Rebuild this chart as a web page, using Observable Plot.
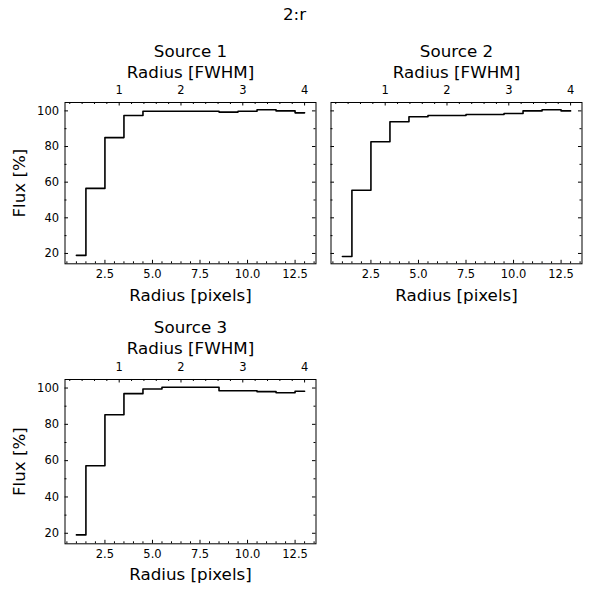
<!DOCTYPE html>
<html><head><meta charset="utf-8">
<script src="https://cdn.jsdelivr.net/npm/d3@7"></script>
<script src="https://cdn.jsdelivr.net/npm/@observablehq/plot@0.6"></script>
<style>
html,body{margin:0;padding:0;background:#fff;}
#root{position:relative;width:589px;height:592px;font-family:"DejaVu Sans",sans-serif;color:#000;}
#suptitle{position:absolute;left:0;top:6px;width:589px;text-align:center;font-size:16.7px;line-height:16.7px;}
.panel{position:absolute;}
</style></head><body>
<div id="root"><div id="suptitle">2:r</div></div>
<script>
// ---- data ----
const radiusPx = [1, 2, 3, 4, 5, 6, 7, 8, 9, 10, 11, 12, 13];
const source1 = [18.9, 56.5, 85.0, 97.4, 99.8, 99.8, 99.8, 99.8, 99.3, 99.8, 100.6, 100.0, 98.9];
const source2 = [18.3, 55.5, 82.7, 93.9, 96.7, 97.4, 97.4, 98.0, 98.0, 98.5, 100.0, 100.6, 100.0];
const source3 = [19.1, 57.2, 85.3, 96.9, 99.5, 100.4, 100.4, 100.4, 98.5, 98.5, 98.0, 97.4, 98.2];
const titles = ["Source 1", "Source 2", "Source 3"];
const xTicks = [2.5, 5, 7.5, 10, 12.5];
const fwhmTicks = [1, 2, 3, 4];
const fwhmPx = 3.25;
const yTicks = [20, 40, 60, 80, 100];
const xLabel = "Radius [pixels]";
const topLabel = "Radius [FWHM]";
const yLabel = "Flux [%]";

const xDomain = [0.4, 13.6];
const yDomain = [14.2, 104.7];
const xMinor = d3.range(1, 28).map(i => i * 0.5).filter(v => !xTicks.includes(v));
const fwhmMinor = d3.range(1, 21).map(i => +(i * 0.2).toFixed(1)).filter(v => !Number.isInteger(v));
const yMinor = [30, 50, 70, 90];
const labelSize = 16.7;

function panel(values, title, fx0, fx1, fy0, fy1, showY, off) {
  const mL = 64.5, mR = 10, mT = 75, mB = 45;
  const svgLeft = fx0 - mL, svgTop = fy0 - mT;
  const width = fx1 - svgLeft + mR, height = fy1 - svgTop + mB;
  const fw = fx1 - fx0, fh = fy1 - fy0;
  const data = radiusPx.map((r, i) => ({r, f: values[i]}));
  const maj = 3.5, mn = 2;
  const marks = [
    Plot.line(data, {x: "r", y: "f", curve: "step", stroke: "black", strokeWidth: 1.6}),
    // bottom ticks (inward)
    Plot.tickX(xTicks, {x: d => d, insetTop: fh - maj, stroke: "black"}),
    Plot.tickX(xMinor, {x: d => d, insetTop: fh - mn, stroke: "black"}),
    // top FWHM ticks (inward)
    Plot.tickX(fwhmTicks, {x: d => d * fwhmPx, insetBottom: fh - maj, stroke: "black"}),
    Plot.tickX(fwhmMinor, {x: d => d * fwhmPx, insetBottom: fh - mn, stroke: "black"}),
    // left / right ticks (inward)
    Plot.tickY(yTicks, {y: d => d, insetRight: fw - maj, stroke: "black"}),
    Plot.tickY(yMinor, {y: d => d, insetRight: fw - mn, stroke: "black"}),
    Plot.tickY(yTicks, {y: d => d, insetLeft: fw - maj, stroke: "black"}),
    Plot.tickY(yMinor, {y: d => d, insetLeft: fw - mn, stroke: "black"}),
    Plot.frame({stroke: "black", strokeWidth: 1}),
    Plot.axisX(xTicks, {anchor: "bottom", tickSize: 0, tickPadding: 6, tickFormat: d => d.toFixed(1), label: null}),
    Plot.axisX(fwhmTicks.map(f => f * fwhmPx), {anchor: "top", tickSize: 0, tickPadding: 8.7, tickFormat: d => String(Math.round(d / fwhmPx)), label: null}),
    Plot.text([title], {text: d => d, frameAnchor: "top", lineAnchor: "middle", textAnchor: "middle", dy: off.title, fontSize: labelSize}),
    Plot.text([topLabel], {text: d => d, frameAnchor: "top", lineAnchor: "middle", textAnchor: "middle", dy: off.top, fontSize: labelSize}),
    Plot.text([xLabel], {text: d => d, frameAnchor: "bottom", lineAnchor: "middle", textAnchor: "middle", dy: off.bottom, fontSize: labelSize})
  ];
  if (showY) {
    marks.push(Plot.axisY(yTicks, {anchor: "left", tickSize: 0, tickPadding: 6, label: null}));
    marks.push(Plot.text([yLabel], {text: d => d, frameAnchor: "left", lineAnchor: "middle", textAnchor: "middle", dx: -45.7, rotate: -90, fontSize: labelSize}));
  }
  const chart = Plot.plot({
    width, height,
    marginLeft: mL, marginRight: mR, marginTop: mT, marginBottom: mB,
    x: {domain: xDomain, label: null},
    y: {domain: yDomain, label: null, axis: showY ? undefined : null},
    style: {fontFamily: "DejaVu Sans", fontSize: "11.5px", color: "black", background: "transparent", overflow: "visible"},
    marks
  });
  chart.classList.add("panel");
  chart.style.left = svgLeft + "px";
  chart.style.top = svgTop + "px";
  document.getElementById("root").appendChild(chart);
}

const offTop = {title: -50.5, top: -30.2, bottom: 32};
const offBottom = {title: -52, top: -31, bottom: 30.5};
panel(source1, titles[0], 64.5, 315.5, 102.3, 263.6, true, offTop);
panel(source2, titles[1], 330.5, 581.5, 102.3, 263.6, false, offTop);
panel(source3, titles[2], 64.5, 315.5, 378.5, 542.8, true, offBottom);
</script>
</body></html>
